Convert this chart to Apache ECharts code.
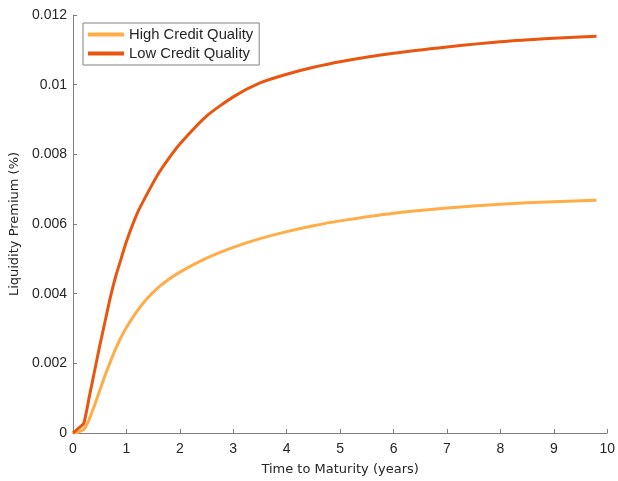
<!DOCTYPE html>
<html><head><meta charset="utf-8">
<script src="https://cdn.jsdelivr.net/npm/echarts@6/dist/echarts.min.js"></script>
<style>html,body{margin:0;padding:0;background:#fff}#c{width:618px;height:481px}</style>
</head><body><div id="c"></div>
<script>
const times = [0, 0.1, 0.2, 0.3, 0.4, 0.5, 0.6, 0.7, 0.8, 0.9, 1.0, 1.2, 1.4, 1.6, 1.8, 2.0, 2.5, 3, 3.5, 4, 4.5, 5, 6, 7, 8, 9, 9.8];
const highQuality = [0, 0.00003, 0.0001, 0.00038, 0.00078, 0.00122, 0.00165, 0.00205, 0.00242, 0.00275, 0.00303, 0.0035, 0.00388, 0.00418, 0.00442, 0.00462, 0.00502, 0.00533, 0.00558, 0.00578, 0.00595, 0.00609, 0.00631, 0.00646, 0.00657, 0.00664, 0.00668];
const lowQuality = [0, 0.000135, 0.00027, 0.001, 0.00175, 0.0025, 0.0032, 0.0039, 0.0045, 0.005, 0.0055, 0.0063, 0.0069, 0.00745, 0.0079, 0.0083, 0.0091, 0.00965, 0.01005, 0.0103, 0.0105, 0.01066, 0.0109, 0.01108, 0.01123, 0.01133, 0.01139];
const seriesNames = ['High Credit Quality', 'Low Credit Quality'];
const xTitle = 'Time to Maturity (years)';
const yTitle = 'Liquidity Premium (%)';

const font = 'Helvetica, "Liberation Sans", Arial, sans-serif';
const titleFont = '"DejaVu Sans", "Lucida Grande", sans-serif';
const txt = '#262626';
const axisCol = '#7f7f7f';
const pair = (xs, ys) => xs.map((x, i) => [x, ys[i]]);

const chart = echarts.init(document.getElementById('c'), null, {renderer: 'canvas'});
chart.setOption({
  animation: false,
  backgroundColor: '#fff',
  grid: {left: 73, right: 9, top: 15, bottom: 44, containLabel: false},
  legend: {
    orient: 'vertical', left: 83, top: 23,
    data: seriesNames,
    icon: 'rect', itemWidth: 36, itemHeight: 4, itemGap: 4,
    borderColor: '#808080', borderWidth: 1, padding: [4, 6, 4, 5],
    backgroundColor: '#fff',
    textStyle: {fontFamily: font, fontSize: 14.8, lineHeight: 15, color: txt, padding: [0, 0, 0, 0]}
  },
  xAxis: {
    type: 'value', min: 0, max: 10, interval: 1,
    name: xTitle, nameLocation: 'middle', nameGap: 30,
    nameTextStyle: {fontFamily: titleFont, fontSize: 13, color: txt},
    axisLine: {onZero: false, lineStyle: {color: axisCol, width: 1}},
    axisTick: {inside: true, length: 4, lineStyle: {color: axisCol}},
    axisLabel: {fontFamily: font, fontSize: 14, color: txt, margin: 9},
    splitLine: {show: false}
  },
  yAxis: {
    type: 'value', min: 0, max: 0.012, interval: 0.002,
    name: yTitle, nameLocation: 'middle', nameGap: 47,
    nameTextStyle: {fontFamily: titleFont, fontSize: 13, color: txt},
    axisLine: {show: true, onZero: false, lineStyle: {color: axisCol, width: 1}},
    axisTick: {show: true, inside: true, length: 4, lineStyle: {color: axisCol}},
    axisLabel: {fontFamily: font, fontSize: 14, color: txt, margin: 6,
      formatter: v => v === 0 ? '0' : String(+v.toFixed(3))},
    splitLine: {show: false}
  },
  series: [
    {name: seriesNames[0], type: 'line', data: pair(times, highQuality), showSymbol: false,
     smooth: 0.2, lineStyle: {width: 3, color: '#FFAD47', join: 'round'}, itemStyle: {color: '#FFAD47'}},
    {name: seriesNames[1], type: 'line', data: pair(times, lowQuality), showSymbol: false,
     smooth: 0.2, lineStyle: {width: 3, color: '#E8560F', join: 'round'}, itemStyle: {color: '#E8560F'}}
  ]
});
</script></body></html>
